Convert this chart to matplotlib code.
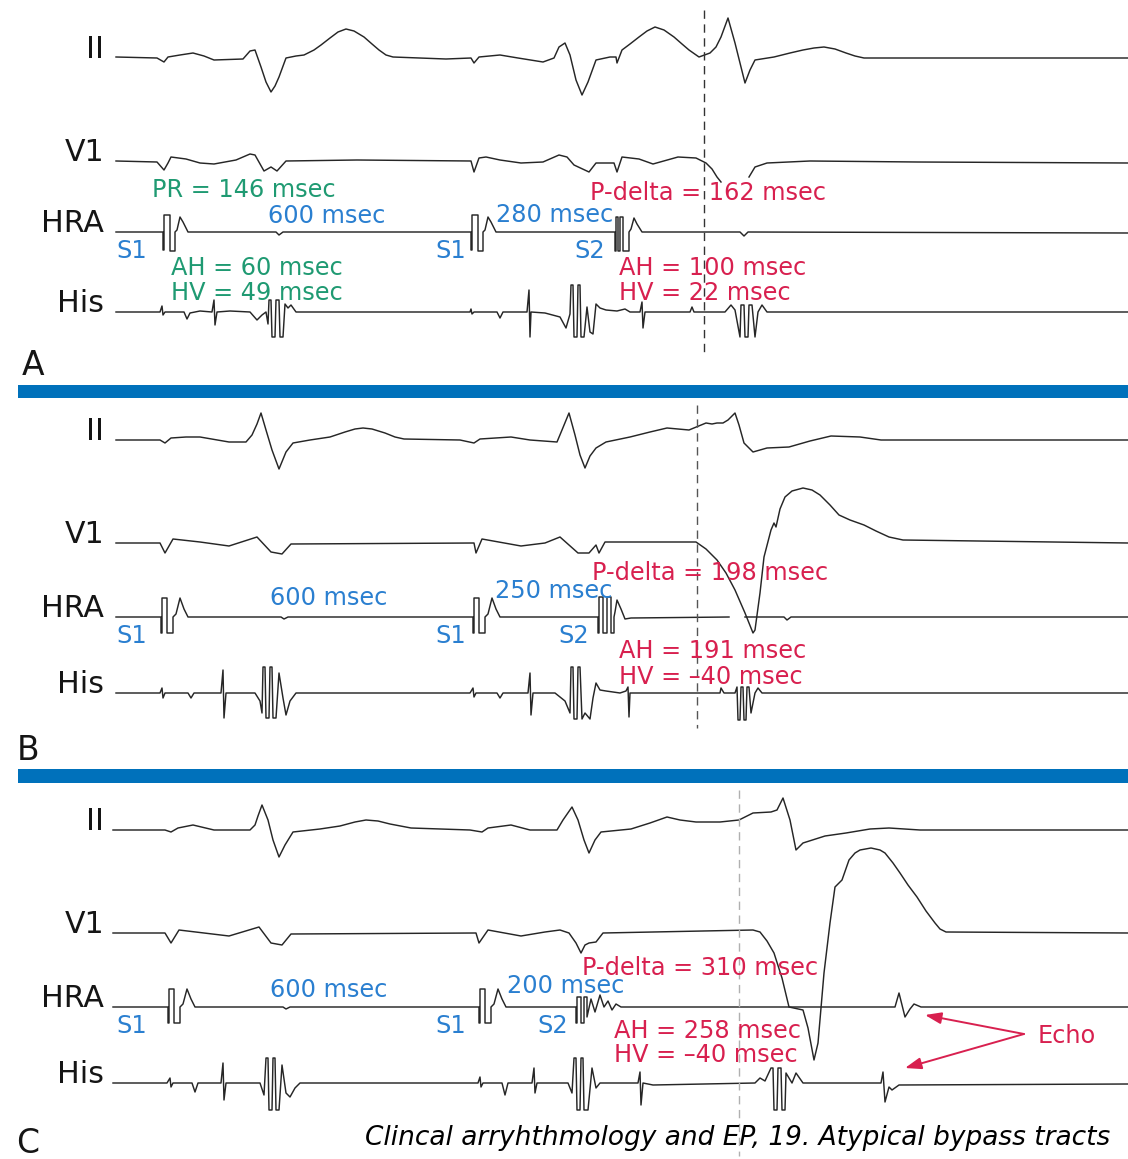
# plot.py: 心内心電図 (II, V1, HRA, His) 3パネルの再描画
import numpy as np
import matplotlib.pyplot as plt

# ---- 波形データ: (横位置, 基線からの上向き振幅) ----
# パネルA
II_A = [(116,1),(157,0),(164,-4),(168,1),(180,3),(193,5),(204,2),(214,-2),(243,-1),(250,7),(255,8),
        (261,-9),(266,-24),(271,-34),(275,-28),(279,-19),(286,0),(296,2),(304,3),(314,8),(321,13),
        (330,20),(338,26),(346,29),(354,27),(364,21),(372,14),(379,8),(386,3),(393,1),(446,-1),
        (471,0),(474,-5),(479,1),(500,3),(518,0),(543,-4),(554,0),(559,11),(565,15),(570,3),
        (576,-22),(582,-37),(588,-24),(596,-2),(610,1),(616,1),(617,-5),(622,8),(630,14),(639,21),
        (647,27),(655,31),(664,28),(674,21),(682,14),(689,8),(699,1),(710,5),(716,11),(721,21),
        (728,40),(735,15),(745,-25),(750,-12),(755,-2),(774,1),(790,5),(803,8),(814,10),(824,11),
        (835,9),(846,5),(855,2),(864,0),(1128,0)]
V1_A = [(116,0),(157,-1),(164,-9),(168,-2),(171,4),(186,2),(200,-2),(214,-3),(236,1),(250,7),
        (255,6),(264,-10),(271,-6),(277,-10),(286,0),(357,1),(471,0),(474,-11),(479,3),(486,4),
        (500,1),(521,-2),(543,-1),(559,6),(567,4),(574,-4),(589,-11),(596,-2),(614,-2),(617,-11),
        (622,4),(639,2),(653,-3),(678,4),(696,3),(706,-2),(712,-8),(717,-16),(721,-21),(730,np.nan),
        (749,-16),(755,-6),(767,-2),(810,0),(917,-1),(1128,-2)]
HRA_A = [(116,0),(163,0),(163,-18),(164,-18),(164,17),(170,17),(170,-19),(175,-19),(175,0),
         (177,2),(180,15),(183,10),(188,0),(276,0),(279,-3),(283,0),(471,0),(471,-18),(472,-18),
         (472,17),(478,17),(478,-19),(483,-19),(483,0),(485,2),(488,15),(491,10),(496,0),(615,0),
         (615,-19),(616,-19),(616,15),(618,15),(618,-19),(620,-19),(620,15),(623,15),(623,-19),
         (629,-19),(629,0),(631,3),(634,14),(637,8),(642,0),(740,0),(744,-4),(748,0),(1128,-1)]
His_A = [(116,0),(160,0),(162,6),(163,-3),(165,0),(184,0),(187,-7),(190,-1),(200,1),(212,0),
         (214,12),(215,-13),(217,0),(230,1),(250,0),(257,-8),(262,-3),(266,0),(268,-12),(269,12),
         (271,12),(272,-25),(275,-25),(276,12),(279,12),(280,-25),(283,-25),(285,8),(288,4),
         (291,7),(296,0),(470,0),(471,3),(472,-2),(474,0),(497,0),(500,-6),(503,0),(527,0),
         (529,22),(530,-25),(531,0),(545,-1),(560,-5),(566,-16),(570,-2),(571,27),(573,27),
         (574,-25),(577,-25),(578,27),(580,27),(581,-25),(584,-25),(587,5),(590,-20),(593,-22),
         (596,8),(600,4),(606,2),(617,1),(625,3),(630,0),(640,0),(642,10),(643,-16),(645,0),
         (690,0),(692,5),(694,0),(725,0),(731,7),(735,2),(740,-25),(741,7),(744,7),(745,-25),
         (748,-25),(749,7),(752,7),(755,-25),(758,0),(762,7),(767,0),(1128,0)]

# パネルB
II_B = [(116,0),(160,0),(165,-3),(171,2),(186,3),(200,3),(229,-2),(246,-2),(252,5),(257,16),(261,27),
        (266,10),(272,-10),(279,-29),(286,-12),(293,-3),(310,0),(330,3),(345,8),(355,11),(363,12),
        (372,11),(385,7),(395,3),(404,1),(460,0),(474,-3),(480,1),(511,3),(530,0),(557,-2),(562,10),
        (569,27),(575,5),(580,-15),(585,-28),(590,-16),(596,-8),(606,-2),(630,3),(650,8),(667,12),
        (689,10),(706,17),(712,16),(717,17),(723,17),(728,20),(735,27),(739,15),(744,-3),(753,-12),
        (767,-8),(789,-7),(810,-1),(831,4),(860,3),(881,0),(1128,0)]
V1_B = [(116,0),(160,0),(165,-10),(173,4),(200,1),(229,-3),(257,6),(271,-9),(282,-11),(291,-1),
        (474,0),(476,-10),(482,4),(521,-3),(545,0),(560,6),(578,-10),(589,-10),(596,-2),(599,-10),
        (605,1),(696,1),(706,-6),(717,-17),(726,-30),(735,-47),(745,-70),(753,-90),(755,-87),
        (760,-50),(764,-14),(771,13),(774,20),(776,16),(780,34),(785,46),(792,52),(803,55),(812,53),
        (820,48),(830,38),(839,28),(850,23),(864,18),(876,12),(889,6),(903,3),(1128,0)]
HRA_B = [(116,0),(161,0),(161,-16),(162,-16),(162,19),(167,19),(167,-16),(173,-16),(173,0),
         (176,3),(180,19),(184,8),(188,0),(281,0),(284,-2),(288,0),(473,0),(473,-16),(474,-16),
         (474,19),(479,19),(479,-16),(485,-16),(485,0),(488,3),(492,19),(496,8),(500,0),(598,0),
         (598,-16),(599,-16),(599,20),(603,20),(603,-16),(607,-16),(607,20),(611,20),(611,-16),
         (614,-16),(614,0),(615,5),(617,17),(621,8),(625,-2),(631,-1),(729,0),(737,np.nan),
         (745,0),(784,0),(787,-3),(791,0),(1128,0)]
His_B = [(116,0),(160,0),(162,5),(163,-5),(165,0),(188,0),(191,-5),(194,0),(221,0),(223,23),
         (224,-25),(226,0),(255,0),(260,-8),(262,-20),(263,26),(265,26),(266,-25),(269,-25),
         (270,26),(272,26),(273,-25),(276,-25),(279,20),(283,-5),(286,-22),(290,-8),(296,0),
         (470,0),(473,5),(474,-4),(476,0),(497,0),(500,-5),(503,0),(528,0),(530,20),(531,-22),
         (533,0),(555,0),(565,-8),(570,-20),(571,26),(573,26),(574,-26),(577,-26),(578,26),
         (580,26),(582,-26),(585,-20),(590,-26),(593,-5),(596,10),(600,3),(606,2),(620,0),
         (626,2),(628,6),(629,-24),(630,0),(639,0),(720,0),(721,5),(724,0),(735,0),(737,6),
         (738,-27),(740,-27),(741,6),(743,6),(744,-27),(746,-27),(747,6),(749,6),(751,-20),
         (755,0),(758,5),(762,0),(1128,0)]

# パネルC
II_C = [(113,0),(165,0),(171,-2),(178,2),(193,5),(214,0),(250,0),(255,5),(258,14),(262,25),(268,10),
        (273,-10),(279,-27),(285,-15),(293,-2),(320,1),(340,4),(355,8),(366,10),(378,9),(390,6),
        (411,2),(470,0),(482,-2),(488,2),(511,5),(530,0),(557,0),(563,10),(572,23),(578,10),
        (584,-10),(589,-23),(595,-10),(601,-2),(631,1),(650,7),(667,13),(680,10),(696,8),(720,8),
        (739,10),(753,17),(771,18),(777,20),(783,32),(790,10),(796,-20),(803,-13),(825,-6),
        (846,-3),(870,1),(889,2),(920,0),(1128,0)]
V1_C = [(113,0),(165,0),(171,-10),(179,3),(229,-3),(259,6),(271,-10),(282,-12),(291,-1),(476,0),
        (479,-10),(488,3),(521,-3),(545,1),(560,3),(569,0),(576,-10),(581,-20),(585,-12),(589,-10),
        (596,-9),(603,0),(753,3),(760,1),(767,-8),(774,-20),(782,-45),(789,-74),(803,-77),
        (808,-95),(814,-127),(818,-110),(824,-40),(830,10),(835,46),(842,53),(849,73),(855,80),
        (860,83),(871,85),(880,83),(885,80),(893,70),(900,60),(908,48),(917,36),(926,22),(935,10),
        (940,4),(946,1),(1128,0)]
HRA_C = [(113,0),(168,0),(168,-16),(169,-16),(169,18),(174,18),(174,-16),(180,-16),(180,0),
         (183,3),(187,18),(191,8),(195,0),(283,0),(286,-2),(290,0),(479,0),(479,-16),(480,-16),
         (480,18),(485,18),(485,-16),(491,-16),(491,0),(494,3),(498,18),(502,8),(506,0),(576,0),
         (576,-16),(577,-16),(577,10),(581,10),(581,-16),(584,-16),(584,10),(587,10),(587,-10),
         (591,8),(595,-5),(600,12),(604,0),(608,6),(612,-3),(616,3),(621,0),(895,0),(899,14),
         (905,-10),(910,-2),(914,3),(921,0),(1128,0)]
His_C = [(113,0),(167,0),(170,5),(171,-4),(173,0),(192,0),(195,-9),(198,0),(221,0),(223,20),
         (224,-17),(226,0),(260,0),(264,-12),(266,25),(268,25),(269,-27),(272,-27),(273,25),
         (275,25),(276,-27),(279,-27),(282,18),(286,-10),(290,-14),(295,-5),(300,0),(478,0),
         (480,6),(481,-4),(483,0),(502,0),(505,-12),(508,0),(532,0),(534,15),(535,-10),(537,0),
         (568,0),(572,-10),(574,25),(576,25),(577,-27),(580,-27),(581,25),(583,25),(584,-27),
         (588,-27),(592,15),(596,-5),(600,0),(638,0),(640,11),(641,-22),(643,0),(653,-2),(755,0),
         (760,5),(765,2),(771,15),(773,15),(774,-27),(777,-27),(778,15),(781,15),(782,-27),
         (785,-27),(786,10),(792,0),(796,10),(803,0),(881,0),(883,11),(885,-19),(889,-4),
         (892,-7),(899,-2),(1128,-1)]

leads = ['II', 'V1', 'HRA', 'His']
panels = ['A', 'B', 'C']
traces = {'A': [II_A, V1_A, HRA_A, His_A],
          'B': [II_B, V1_B, HRA_B, His_B],
          'C': [II_C, V1_C, HRA_C, His_C]}

# 注釈テキスト (パネルごと)
green_notes = {'A': ['PR = 146 msec', 'AH = 60 msec', 'HV = 49 msec']}
blue_notes = {'A': ['600 msec', '280 msec', 'S1', 'S1', 'S2'],
              'B': ['600 msec', '250 msec', 'S1', 'S1', 'S2'],
              'C': ['600 msec', '200 msec', 'S1', 'S1', 'S2']}
red_notes = {'A': ['P-delta = 162 msec', 'AH = 100 msec', 'HV = 22 msec'],
             'B': ['P-delta = 198 msec', 'AH = 191 msec', 'HV = \u201340 msec'],
             'C': ['P-delta = 310 msec', 'AH = 258 msec', 'HV = \u201340 msec']}
echo_label = 'Echo'
caption = 'Clincal arryhthmology and EP, 19. Atypical bypass tracts'

# ---- レイアウト (ピクセル座標) ----
W, H = 1128, 1159
baselines = {'A': [58, 161, 232, 312], 'B': [440, 543, 617, 693], 'C': [830, 933, 1007, 1083]}
letter_pos = {'A': (22, 375), 'B': (17, 760), 'C': (16, 1153)}
green_pos = {'A': [(152, 197), (171, 275), (171, 300)]}
blue_pos = {'A': [(268, 223), (496, 222), (116, 258), (435, 258), (574, 258)],
            'B': [(270, 605), (495, 598), (116, 643), (435, 643), (558, 643)],
            'C': [(270, 997), (507, 993), (116, 1033), (435, 1033), (537, 1033)]}
red_pos = {'A': [(590, 200), (619, 275), (619, 300)],
           'B': [(592, 580), (619, 658), (619, 684)],
           'C': [(582, 975), (614, 1038), (614, 1062)]}
dash_lines = {'A': (704, 10, 353, '#333333'), 'B': (697, 405, 728, '#555555'),
              'C': (739, 790, 1156, '#b0b0b0')}
bars_y = [(385, 398), (769, 783)]

GREEN = '#1f9a72'
BLUE = '#2a7fd0'
RED = '#d8204f'
BAR = '#0071bb'
INK = '#262626'

px = 0.72  # px -> pt (dpi=100)

fig = plt.figure(figsize=(W / 100, H / 100), dpi=100)
ax = fig.add_axes([0, 0, 1, 1])
ax.set_xlim(0, W)
ax.set_ylim(H, 0)
ax.axis('off')

for p in panels:
    for lead, tr, base in zip(leads, traces[p], baselines[p]):
        xs = np.array([t[0] for t in tr], dtype=float)
        vs = np.array([t[1] for t in tr], dtype=float)
        ax.plot(xs, base - vs, color=INK, lw=1.05, solid_joinstyle='round')
        ax.text(104, base, lead, ha='right', va='baseline', fontsize=30 * px, color='#151515')
    ax.text(*letter_pos[p], p, ha='left', va='baseline', fontsize=33 * px, color='#151515')

    dx, y0, y1, dc = dash_lines[p]
    ax.plot([dx, dx], [y0, y1], color=dc, lw=1.0, ls=(0, (6, 4)))

    for txt, (tx, ty) in zip(green_notes.get(p, []), green_pos.get(p, [])):
        ax.text(tx, ty, txt, color=GREEN, fontsize=24 * px, va='baseline')
    for txt, (tx, ty) in zip(blue_notes[p], blue_pos[p]):
        ax.text(tx, ty, txt, color=BLUE, fontsize=24 * px, va='baseline')
    for txt, (tx, ty) in zip(red_notes[p], red_pos[p]):
        ax.text(tx, ty, txt, color=RED, fontsize=24 * px, va='baseline')

# 青い区切り帯
for ya, yb in bars_y:
    ax.fill_between([18, W], ya, yb, color=BAR, lw=0)

# Echo 矢印
ax.text(1038, 1043, echo_label, color=RED, fontsize=24 * px, va='baseline')
for hx, hy in [(925, 1015), (905, 1068)]:
    ax.annotate('', xy=(hx, hy), xytext=(1024, 1034),
                arrowprops=dict(arrowstyle='-|>,head_length=0.7,head_width=0.25', color=RED,
                                lw=1.4, mutation_scale=14, shrinkA=0, shrinkB=0))

ax.text(1110, 1145, caption, ha='right', va='baseline', fontsize=19, style='italic',
        color='black')

fig.savefig('out.png', dpi=100)
